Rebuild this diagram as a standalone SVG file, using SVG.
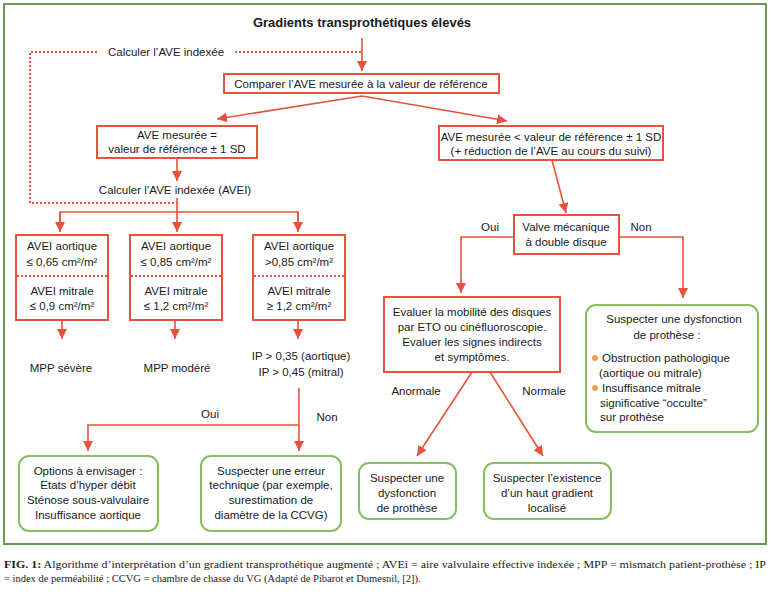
<svg xmlns="http://www.w3.org/2000/svg" width="771" height="597" viewBox="0 0 771 597">
<defs>
<marker id="ah" markerUnits="userSpaceOnUse" markerWidth="10" markerHeight="10" refX="10" refY="5" orient="auto">
<path d="M0,0 L10,5 L0,10 z" fill="#e5533d"/>
</marker>
<style>
text{font-family:"Liberation Sans",Arial,sans-serif;font-size:11.5px;fill:#1a1a1a;text-anchor:middle}
.t{font-weight:bold;font-size:13px}
.l{text-anchor:start}
.box{fill:#fff;stroke:#e5533d;stroke-width:2}
.gbox{fill:#fff;stroke:#88bf5c;stroke-width:2}
.ln{fill:none;stroke:#e5533d;stroke-width:1.6}
.arr{fill:none;stroke:#e5533d;stroke-width:1.6;marker-end:url(#ah)}
.dot{fill:none;stroke:#e5533d;stroke-width:2;stroke-dasharray:2,2}
.cap{font-family:"Liberation Serif","Times New Roman",serif;font-size:10.5px;text-anchor:start;fill:#222}
.bul{fill:#f0a050}
</style>
</defs>
<rect x="4" y="4" width="762" height="540" fill="#fff" stroke="#6a9a55" stroke-width="2"/>

<g id="connectors">
<polyline class="dot" points="97,52 30,52 30,203 177,203"/>
<line class="dot" x1="235" y1="52" x2="362" y2="52"/>
<line class="arr" x1="362" y1="38" x2="362" y2="71"/>
<line class="arr" x1="362" y1="96" x2="217" y2="119"/>
<line class="arr" x1="362" y1="96" x2="507" y2="121"/>
<line class="arr" x1="177" y1="158" x2="177" y2="181"/>
<line class="arr" x1="177" y1="198" x2="177" y2="232"/>
<polyline class="ln" points="60,231 60,212 298,212 298,231"/>
<line class="arr" x1="60" y1="212" x2="60" y2="232"/>
<line class="arr" x1="298" y1="212" x2="298" y2="232"/>
<line class="arr" x1="62" y1="320" x2="62" y2="339"/>
<line class="arr" x1="175" y1="320" x2="175" y2="339"/>
<line class="arr" x1="298" y1="320" x2="298" y2="339"/>
<line class="arr" x1="299" y1="388" x2="299" y2="451"/>
<polyline class="arr" points="299,425 88,425 88,451"/>
<line class="arr" x1="552" y1="160" x2="566" y2="213"/>
<polyline class="arr" points="514,237 461,237 461,293"/>
<polyline class="arr" points="619,237 683,237 683,298"/>
<line class="arr" x1="472" y1="372" x2="417" y2="456"/>
<line class="arr" x1="490" y1="372" x2="543" y2="456"/>
</g>

<g id="title"><text class="t" x="362" y="27">Gradients transprothétiques élevés</text></g>
<g id="calc1"><text x="166" y="56">Calculer l’AVE indexée</text></g>

<g id="compare">
<rect class="box" x="224" y="74" width="275" height="19"/>
<text x="361" y="88">Comparer l’AVE mesurée à la valeur de référence</text>
</g>

<g id="egal">
<rect class="box" x="97" y="126" width="160" height="32"/>
<text x="177" y="139">AVE mesurée =</text>
<text x="177" y="153">valeur de  référence ± 1 SD</text>
</g>

<g id="calc2"><text x="175" y="194">Calculer l’AVE indexée (AVEI)</text></g>

<g id="inf">
<rect class="box" x="439" y="126" width="224" height="34"/>
<text x="551" y="141">AVE mesurée &lt; valeur de référence ± 1 SD</text>
<text x="551" y="155">(+ réduction de l’AVE au cours du suivi)</text>
</g>

<g id="b1">
<rect class="box" x="16" y="235" width="92" height="85"/>
<line class="dot" x1="17" y1="276" x2="107" y2="276" stroke-width="1.4"/>
<text x="62" y="250">AVEI  aortique</text>
<text x="62" y="266">≤ 0,65 cm²/m²</text>
<text x="62" y="295">AVEI mitrale</text>
<text x="62" y="310">≤ 0,9 cm²/m²</text>
</g>
<g id="b2">
<rect class="box" x="130" y="235" width="92" height="85"/>
<line class="dot" x1="131" y1="276" x2="221" y2="276" stroke-width="1.4"/>
<text x="176" y="250">AVEI  aortique</text>
<text x="176" y="266">≤  0,85 cm²/m²</text>
<text x="176" y="295">AVEI mitrale</text>
<text x="176" y="310">≤ 1,2 cm²/m²</text>
</g>
<g id="b3">
<rect class="box" x="253" y="235" width="92" height="85"/>
<line class="dot" x1="254" y1="276" x2="344" y2="276" stroke-width="1.4"/>
<text x="299" y="250">AVEI  aortique</text>
<text x="299" y="266">&gt;0,85 cm²/m²</text>
<text x="299" y="295">AVEI mitrale</text>
<text x="299" y="310">≥  1,2 cm²/m²</text>
</g>

<g id="mpp1"><text x="61" y="372">MPP sévère</text></g>
<g id="mpp2"><text x="177" y="372">MPP modéré</text></g>
<g id="ip"><text x="301" y="360">IP &gt; 0,35 (aortique)</text><text x="301" y="376">IP &gt; 0,45 (mitral)</text></g>

<g id="lbl-left"><text x="210" y="418">Oui</text><text x="327" y="421">Non</text></g>

<g id="options">
<rect class="gbox" x="19" y="456" width="139" height="75" rx="10"/>
<text x="88" y="475">Options à envisager :</text>
<text x="88" y="489">Etats d’hyper débit</text>
<text x="88" y="504">Sténose sous-valvulaire</text>
<text x="88" y="519">Insuffisance aortique</text>
</g>
<g id="erreur">
<rect class="gbox" x="201" y="456" width="140" height="75" rx="10"/>
<text x="271" y="475">Suspecter une erreur</text>
<text x="271" y="489">technique (par exemple,</text>
<text x="271" y="504">surestimation de</text>
<text x="271" y="519">diamètre de la CCVG)</text>
</g>

<g id="valve">
<rect class="box" x="514" y="215" width="105" height="39"/>
<text x="566" y="231">Valve mécanique</text>
<text x="566" y="246">à double disque</text>
</g>
<g id="lbl-valve"><text x="490" y="231">Oui</text><text x="641" y="231">Non</text></g>

<g id="evaluer">
<rect class="box" x="384" y="297" width="176" height="75"/>
<text x="472" y="316">Evaluer la mobilité des disques</text>
<text x="472" y="331">par ETO ou cinéfluoroscopie.</text>
<text x="472" y="346">Evaluer les signes indirects</text>
<text x="472" y="361">et symptômes.</text>
</g>

<g id="dysf-right">
<rect class="gbox" x="586" y="305" width="172" height="127" rx="10"/>
<text x="674" y="323">Suspecter une dysfonction</text>
<text x="667" y="339">de prothèse :</text>
<circle class="bul" cx="595" cy="358" r="3"/>
<text class="l" x="602" y="362">Obstruction pathologique</text>
<text class="l" x="599" y="377">(aortique ou mitrale)</text>
<circle class="bul" cx="595" cy="388" r="3"/>
<text class="l" x="602" y="392">Insuffisance mitrale</text>
<text class="l" x="600" y="407">significative “occulte”</text>
<text class="l" x="600" y="421">sur prothèse</text>
</g>

<g id="lbl-eval"><text x="416" y="395">Anormale</text><text x="544" y="395">Normale</text></g>

<g id="dysf">
<rect class="gbox" x="359" y="463" width="97" height="56" rx="10"/>
<text x="407" y="482">Suspecter une</text>
<text x="407" y="497">dysfonction</text>
<text x="407" y="512">de  prothèse</text>
</g>
<g id="haut">
<rect class="gbox" x="484" y="463" width="127" height="56" rx="10"/>
<text x="547" y="482">Suspecter l’existence</text>
<text x="547" y="497">d’un haut gradient</text>
<text x="547" y="512">localisé</text>
</g>

<g id="caption">
<text class="cap" x="4" y="568" textLength="762" lengthAdjust="spacingAndGlyphs"><tspan font-weight="bold">FIG. 1:</tspan> Algorithme d’interprétation d’un gradient transprothétique augmenté ; AVEi = aire valvulaire effective indexée ; MPP = mismatch patient-prothèse ; IP</text>
<text class="cap" x="4" y="582">= index de perméabilité ; CCVG = chambre de chasse du VG (Adapté de Pibarot et Dumesnil, [2]).</text>
</g>
</svg>
